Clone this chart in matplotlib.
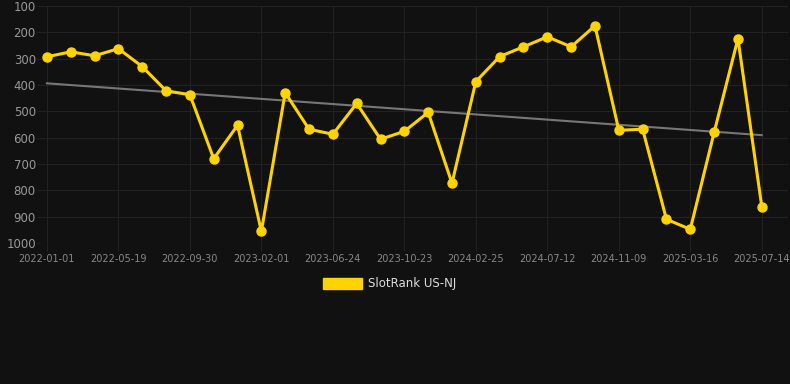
import numpy as np
import matplotlib.pyplot as plt
from matplotlib.patches import Rectangle

# SlotRank US-NJ, one point every step, label shown every 3rd point
tick_labels = ['2022-01-01', '2022-05-19', '2022-09-30', '2023-02-01', '2023-06-24',
               '2023-10-23', '2024-02-25', '2024-07-12', '2024-11-09', '2025-03-16',
               '2025-07-14']
rank = [293, 274, 289, 262, 330, 422, 437, 680, 553, 956,
        429, 568, 587, 470, 606, 576, 504, 773, 387, 292,
        255, 217, 255, 175, 572, 568, 910, 948, 580, 224,
        862]
series_name = 'SlotRank US-NJ'

x = np.arange(len(rank))
slope, icpt = np.polyfit(x, rank, 1)
trend = slope * x + icpt

bg = '#111111'
gold = '#FFD300'
fig = plt.figure(figsize=(7.9, 3.84), dpi=100, facecolor=bg)
ax = fig.add_axes([40 / 790, 1 - 243 / 384, 748 / 790, 237 / 384], facecolor=bg)

ax.plot(x, trend, color='#777777', lw=1.5, zorder=2)
ax.plot(x, rank, color=gold, lw=2.2, marker='o', ms=6.5, zorder=3)

ax.set_ylim(1000, 100)
ax.set_yticks(range(100, 1001, 100))
ax.set_xlim(-0.29, 31.1)
ax.set_xticks(x[::3])
ax.set_xticklabels(tick_labels)

ax.grid(True, color='#222222', lw=0.8)
for s in ax.spines.values():
    s.set_visible(False)
ax.tick_params(axis='y', colors='#222222', labelcolor='#999999', labelsize=8.5, length=2, pad=1)
ax.tick_params(axis='x', colors='#222222', labelcolor='#888888', labelsize=7, length=6, pad=2)

fig.legend([Rectangle((0, 0), 1, 1, facecolor=gold, edgecolor=gold)], [series_name],
           loc='center', bbox_to_anchor=(390 / 790, 1 - 284 / 384), frameon=False,
           fontsize=8.5, labelcolor='#dddddd', handlelength=3.3, handleheight=1.0,
           handletextpad=0.5)

fig.savefig('out.png', dpi=100, facecolor=bg)
